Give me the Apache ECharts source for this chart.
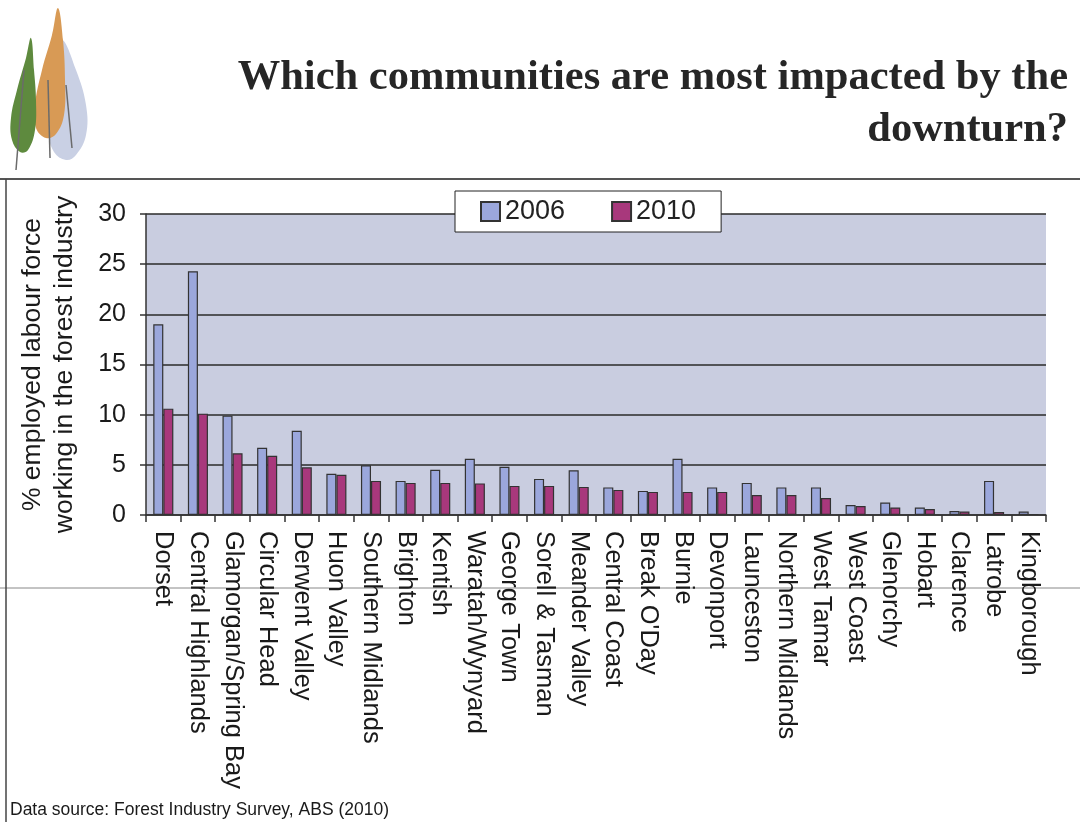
<!DOCTYPE html>
<html><head><meta charset="utf-8">
<script src="https://cdn.jsdelivr.net/npm/echarts@6/dist/echarts.min.js"></script>
<style>html,body{margin:0;padding:0;background:#fff}#c{width:1080px;height:822px}</style>
</head><body><div id="c"></div>
<script>
const categories = ["Dorset","Central Highlands","Glamorgan/Spring Bay","Circular Head","Derwent Valley","Huon Valley","Southern Midlands","Brighton","Kentish","Waratah/Wynyard","George Town","Sorell & Tasman","Meander Valley","Central Coast","Break O'Day","Burnie","Devonport","Launceston","Northern Midlands","West Tamar","West Coast","Glenorchy","Hobart","Clarence","Latrobe","Kingborough"];
const values2006 = [19.0,24.3,9.9,6.7,8.4,4.1,4.95,3.4,4.5,5.6,4.8,3.6,4.45,2.75,2.4,5.6,2.75,3.2,2.75,2.75,1.0,1.25,0.75,0.4,3.4,0.35];
const values2010 = [10.6,10.1,6.15,5.9,4.75,4.0,3.4,3.2,3.2,3.15,2.9,2.9,2.8,2.5,2.3,2.3,2.3,2.0,2.0,1.7,0.9,0.75,0.6,0.35,0.3,0.1];
const yTicks = [0,5,10,15,20,25,30];

const chart = echarts.init(document.getElementById('c'));
chart.setOption({
  animation: false,
  backgroundColor: '#ffffff',
  textStyle: {fontFamily: 'Liberation Sans, Arial, sans-serif'},
  grid: {left: 146, right: 34, top: 214, bottom: 307, show: true, backgroundColor: '#c9cde0', borderWidth: 0},
  legend: {
    top: 191, left: 455, width: 274, height: 42,
    padding: [7, 25, 7, 25],
    backgroundColor: '#ffffff', borderColor: '#222', borderWidth: 1,
    itemWidth: 19, itemHeight: 19, itemGap: 46,
    icon: 'rect',
    textStyle: {fontSize: 27, color: '#222', fontFamily: 'Liberation Sans, Arial, sans-serif'},
    data: ['2006', '2010']
  },
  xAxis: {
    type: 'category', data: categories,
    axisLine: {lineStyle: {color: '#333', width: 1.5}},
    axisTick: {show: true, length: 7, lineStyle: {color: '#333', width: 1.5}},
    axisLabel: {rotate: -90, interval: 0, margin: 16, fontSize: 25.5, color: '#1a1a1a', fontFamily: 'Liberation Sans, Arial, sans-serif'}
  },
  yAxis: {
    type: 'value', min: 0, max: 30, interval: 5,
    name: '% employed labour force\nworking in the forest industry',
    nameLocation: 'middle', nameGap: 65, nameRotate: 90,
    nameTextStyle: {fontSize: 26.5, color: '#1a1a1a', lineHeight: 32, fontFamily: 'Liberation Sans, Arial, sans-serif'},
    axisLine: {show: true, lineStyle: {color: '#333', width: 1.5}},
    axisTick: {show: true, length: 6, lineStyle: {color: '#333', width: 1.5}},
    axisLabel: {fontSize: 25, color: '#1a1a1a', margin: 20, formatter: v => yTicks.includes(v) ? String(v) : ''},
    splitLine: {lineStyle: {color: '#2a2a2a', width: 1.6}}
  },
  series: [
    {name: '2006', type: 'bar', data: values2006, barGap: '0%', barCategoryGap: '42%',
     itemStyle: {color: '#9ba7dc', borderColor: '#333', borderWidth: 1.2}},
    {name: '2010', type: 'bar', data: values2010,
     itemStyle: {color: '#a8387c', borderColor: '#333', borderWidth: 1.2}}
  ],
  graphic: [
    {type: 'line', shape: {x1: 0, y1: 179, x2: 1080, y2: 179}, style: {stroke: '#555', lineWidth: 2}},
    {type: 'line', shape: {x1: 6, y1: 179, x2: 6, y2: 822}, style: {stroke: '#444', lineWidth: 1.5}},
    {type: 'line', shape: {x1: 0, y1: 588, x2: 1080, y2: 588}, style: {stroke: '#888', lineWidth: 1}, z: -1},
    {type: 'text', x: 1068, y: 57, style: {text: 'Which communities are most impacted by the', font: 'bold 42.5px "Liberation Serif", "Times New Roman", serif', fill: '#262626', align: 'right', textAlign: 'right'}},
    {type: 'text', x: 1068, y: 109, style: {text: 'downturn?', font: 'bold 42.5px "Liberation Serif", "Times New Roman", serif', fill: '#262626', align: 'right', textAlign: 'right'}},
    {type: 'text', x: 10, y: 801, style: {text: 'Data source: Forest Industry Survey, ABS (2010)', font: '17.5px "Liberation Sans", Arial, sans-serif', fill: '#1a1a1a'}},
    {type: 'polygon', shape: {smooth: 0.4, points: [[62,40],[76,70],[86,105],[86,135],[76,155],[66,160],[54,152],[48,130],[50,100],[56,70]]}, style: {fill: '#c9d0e4'}},
    {type: 'polygon', shape: {smooth: 0.4, points: [[58,8],[63,40],[65,80],[64,115],[56,134],[46,138],[36,128],[35,105],[42,70],[52,35]]}, style: {fill: '#d89a55'}},
    {type: 'polygon', shape: {smooth: 0.4, points: [[31,38],[34,70],[36,100],[35,130],[28,150],[20,152],[12,140],[11,118],[17,90],[26,58]]}, style: {fill: '#5e8a3e'}},
    {type: 'line', shape: {x1: 16, y1: 170, x2: 24, y2: 70}, style: {stroke: '#6b6b6b', lineWidth: 1.5}},
    {type: 'line', shape: {x1: 50, y1: 158, x2: 48, y2: 80}, style: {stroke: '#6b6b6b', lineWidth: 1.5}},
    {type: 'line', shape: {x1: 72, y1: 148, x2: 66, y2: 85}, style: {stroke: '#6b6b6b', lineWidth: 1.5}}
  ]
});
</script></body></html>
